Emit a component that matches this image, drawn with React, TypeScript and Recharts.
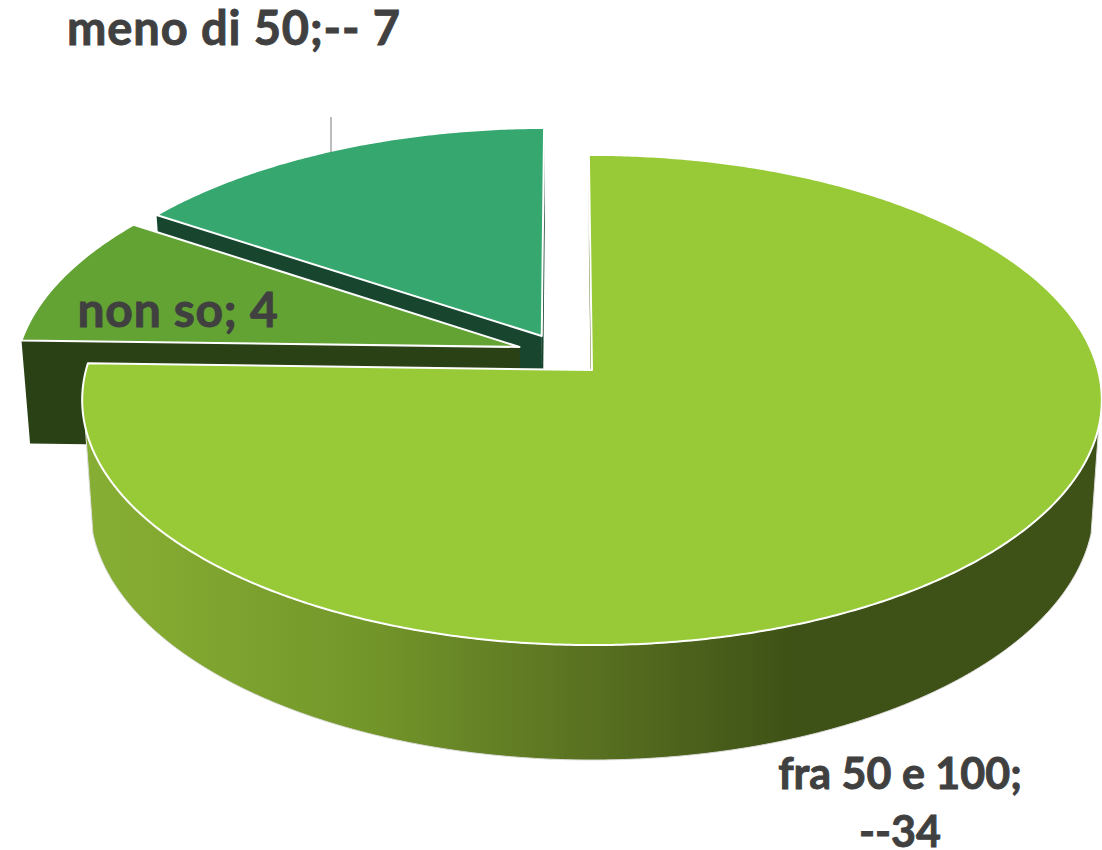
import React from "react";
import { PieChart, Pie } from "recharts";

const categories = ["meno di 50", "non so", "fra 50 e 100"];
const values = [7, 4, 34];
const labelLines = [["meno di 50;-- 7"], ["non so; 4"], ["fra 50 e 100;", "--34"]];
const topColors = ["#36A86F", "#62A334", "#97CA36"];
const wallColors = ["#17452E", "#2A4116", "#5D7524"];
// explosion of each slice in the pie's plane, in radii
const explodeX = [-0.101, -0.145, 0];
const explodeV = [0.1433, 0.0964, 0];
const labelX = [234, 178, 900];
const labelY = [45, 327, 789];
const labelSizes = [47, 48, 43];
const labelSpacing = [0.9, 0.7, 0];

const tableData = categories.map((name, i) => ({ name, value: values[i], idx: i }));

const WIDTH = 1102;
const HEIGHT = 850;
const CX = 592;
const CY = 370;
const RADIUS = 506;
const SQUASH = 241.4 / 506;
const PERSPECTIVE = 0.1224;
const WALL_SCALE = 0.985;

type P = [number, number];

const project = (X: number, V: number, R: number, cx: number, cy: number): P => {
  const w = 1 + PERSPECTIVE * V;
  return [cx + (R * X) / w, cy - (R * SQUASH * V) / w];
};
const drop = ([x, y]: P, cx: number): P => [
  cx + (x - cx) * WALL_SCALE,
  y + 89.6 + 0.0393 * y,
];
const toPath = (pts: P[], close = true) =>
  "M" + pts.map((p) => `${p[0].toFixed(2)},${p[1].toFixed(2)}`).join("L") + (close ? "Z" : "");

const SliceShape = (props: any) => {
  const { cx, cy, outerRadius, startAngle, endAngle, payload } = props;
  const i = payload.idx;
  const a0 = Math.min(startAngle, endAngle);
  const a1 = Math.max(startAngle, endAngle);
  const ex = explodeX[i];
  const ev = explodeV[i];
  const at = (deg: number): P => {
    const r = (deg * Math.PI) / 180;
    return project(ex + Math.cos(r), ev + Math.sin(r), outerRadius, cx, cy);
  };
  const apex = project(ex, ev, outerRadius, cx, cy);
  const arc: P[] = [];
  const n = Math.ceil((a1 - a0) * 2);
  for (let k = 0; k <= n; k++) arc.push(at(a0 + ((a1 - a0) * k) / n));
  const top = [apex, ...arc];

  const wallA = 193.3;
  const wallB = 346.7;
  const front: P[] = [];
  if (a1 > wallA && a0 < wallB) {
    const s = Math.max(a0, wallA);
    const e = Math.min(a1, wallB);
    for (let d = s; d <= e; d += 0.5) front.push(at(d));
    front.push(at(e));
  }
  const wallFill = wallColors[i];
  const gradId = `wallGradient${i}`;
  return (
    <g>
      {front.length > 0 && (
        <defs>
          <linearGradient id={gradId} gradientUnits="userSpaceOnUse" x1={85} x2={1100} y1={0} y2={0}>
            <stop offset="0" stopColor="#87AE34" />
            <stop offset="0.08" stopColor="#83A931" />
            <stop offset="0.28" stopColor="#73962A" />
            <stop offset="0.47" stopColor="#5C7522" />
            <stop offset="0.7" stopColor="#3E5116" />
            <stop offset="1" stopColor="#3E5116" />
          </linearGradient>
        </defs>
      )}
      <path d={toPath([apex, arc[0], drop(arc[0], cx), drop(apex, cx)])} fill={wallFill} />
      <path d={toPath([apex, arc[arc.length - 1], drop(arc[arc.length - 1], cx), drop(apex, cx)])} fill={wallFill} />
      {front.length > 0 && (
        <path
          d={toPath([...front, ...front.slice().reverse().map((p) => drop(p, cx))])}
          fill={`url(#${gradId})`}
          stroke="#DDDDDD"
          strokeWidth={1}
        />
      )}
      <path d={toPath(top)} fill={topColors[i]} stroke="#FFFFFF" strokeWidth={2} strokeLinejoin="round" />
    </g>
  );
};

const SliceLabel = (props: any) => {
  const i = props.payload?.idx ?? props.index;
  const lines = labelLines[i];
  return (
    <g>
      {i === 0 && <line x1={331} x2={331} y1={117} y2={152} stroke="#A6A6A6" strokeWidth={1.5} />}
      <text
        x={labelX[i]}
        y={labelY[i]}
        textAnchor="middle"
        fontFamily="Lato"
        fontWeight={700}
        fontSize={labelSizes[i]}
        letterSpacing={labelSpacing[i]}
        fill="#404040"
        stroke="#404040"
        strokeWidth={0.9}
      >
        {lines.map((t, k) => (
          <tspan key={k} x={labelX[i]} dy={k === 0 ? 0 : 58}>
            {t}
          </tspan>
        ))}
      </text>
    </g>
  );
};

export default function App() {
  return (
    <div style={{ position: "absolute", left: 0, top: 0, width: WIDTH, height: HEIGHT }}>
      <PieChart width={WIDTH} height={HEIGHT} margin={{ top: 0, right: 0, bottom: 0, left: 0 }}>
        <Pie
          data={tableData}
          dataKey="value"
          nameKey="name"
          cx={CX}
          cy={CY}
          innerRadius={0}
          outerRadius={RADIUS}
          startAngle={90.4}
          endAngle={450.4}
          shape={SliceShape}
          label={SliceLabel}
          labelLine={false}
          isAnimationActive={false}
        />
      </PieChart>
    </div>
  );
}
